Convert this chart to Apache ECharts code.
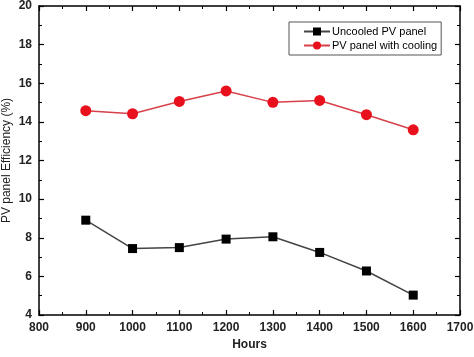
<!DOCTYPE html>
<html><head><meta charset="utf-8">
<script src="https://cdn.jsdelivr.net/npm/echarts@6/dist/echarts.min.js"></script>
<style>html,body{margin:0;padding:0;background:#fff}#c{width:474px;height:357px}</style>
</head><body><div id="c"></div>
<script>
const hours = [900, 1000, 1100, 1200, 1300, 1400, 1500, 1600];
const uncooled = [8.91, 7.44, 7.49, 7.93, 8.05, 7.24, 6.28, 5.03];
const cooled = [14.58, 14.42, 15.06, 15.6, 15.01, 15.11, 14.37, 13.59];
const xTitle = 'Hours';
const yTitle = 'PV panel Efficiency (%)';
const names = ['Uncooled PV panel', 'PV panel with cooling'];

const font = 'Liberation Sans, Arial, sans-serif';
const chart = echarts.init(document.getElementById('c'));
const axisLine = {show: true, lineStyle: {color: '#000', width: 1.5}};
const tick = {show: true, inside: true, length: 5, lineStyle: {color: '#000', width: 1.2}};
const minor = {show: true, splitNumber: 2, length: 3, lineStyle: {color: '#000', width: 1}};
const lbl = {fontFamily: font, fontSize: 12, fontWeight: 'bold', color: '#222', margin: 7, formatter: v => String(v)};
chart.setOption({
  animation: false,
  grid: {left: 39, right: 14, top: 6, bottom: 42, containLabel: false, outerBoundsMode: 'none'},
  legend: {
    orient: 'vertical', left: 289, top: 22,
    backgroundColor: '#fff',
    borderColor: '#555', borderWidth: 1, padding: [4, 4, 4, 14],
    itemWidth: 26, itemHeight: 10, itemGap: 3,
    textStyle: {fontFamily: font, fontSize: 11, color: '#000', padding: [0, 0, 0, -3]},
    data: names
  },
  xAxis: [
    {type: 'value', min: 800, max: 1700, interval: 100, position: 'bottom',
     name: xTitle, nameLocation: 'middle', nameGap: 24,
     nameTextStyle: {fontFamily: font, fontSize: 12, fontWeight: 'bold', color: '#222'},
     axisLine, axisTick: tick, minorTick: minor, splitLine: {show: false},
     axisLabel: lbl},
    {type: 'value', min: 800, max: 1700, interval: 100, position: 'top',
     axisLine, axisTick: tick, minorTick: minor, splitLine: {show: false},
     axisLabel: {show: false}}
  ],
  yAxis: [
    {type: 'value', min: 4, max: 20, interval: 2, position: 'left',
     name: yTitle, nameLocation: 'middle', nameGap: 26, nameMoveOverlap: false,
     nameTextStyle: {fontFamily: font, fontSize: 12, color: '#222'},
     axisLine, axisTick: tick, minorTick: minor, splitLine: {show: false},
     axisLabel: lbl},
    {type: 'value', min: 4, max: 20, interval: 2, position: 'right',
     axisLine, axisTick: tick, minorTick: minor, splitLine: {show: false},
     axisLabel: {show: false}}
  ],
  series: [
    {name: names[0], type: 'line', data: hours.map((h, i) => [h, uncooled[i]]),
     symbol: 'rect', symbolSize: 9, itemStyle: {color: '#000'},
     lineStyle: {color: '#444', width: 1.5}},
    {name: names[1], type: 'line', data: hours.map((h, i) => [h, cooled[i]]),
     symbol: 'circle', symbolSize: 11, itemStyle: {color: '#e8101c'},
     lineStyle: {color: '#d8404a', width: 1.5}}
  ]
});
</script></body></html>
